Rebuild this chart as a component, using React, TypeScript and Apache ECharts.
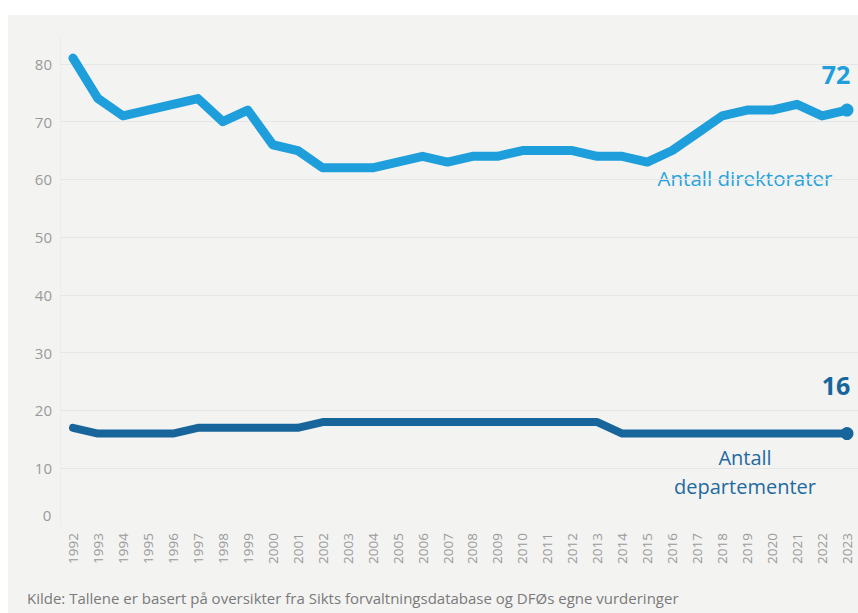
import React, { useEffect, useRef } from "react";
import * as echarts from "echarts";

const years = [
  "1992","1993","1994","1995","1996","1997","1998","1999","2000","2001","2002","2003","2004","2005","2006","2007",
  "2008","2009","2010","2011","2012","2013","2014","2015","2016","2017","2018","2019","2020","2021","2022","2023",
];
const direktorater = [81,74,71,72,73,74,70,72,66,65,62,62,62,63,64,63,64,64,65,65,65,64,64,63,65,68,71,72,72,73,71,72];
const departementer = [17,16,16,16,16,17,17,17,17,17,18,18,18,18,18,18,18,18,18,18,18,18,16,16,16,16,16,16,16,16,16,16];
const yMin = 0;
const yMax = 85;
const yTicks = [0, 10, 20, 30, 40, 50, 60, 70, 80];

const LIGHT = "#1e9fdb";
const DARK = "#17659b";
const FONT = "'Open Sans', 'Noto Sans', sans-serif";
const GRID = "#e6e6e6";

function withEnd(values: number[], color: string, dist: number, fs: number) {
  return values.map((v, i) =>
    i === values.length - 1
      ? {
          value: v,
          symbol: "circle",
          symbolSize: 13,
          itemStyle: { color },
          label: {
            show: true,
            position: "top",
            distance: dist,
            offset: [-11, 0],
            formatter: String(v),
            color,
            fontSize: fs,
            fontWeight: "bold",
            fontFamily: FONT,
          },
        }
      : { value: v, symbol: "none" }
  );
}

export default function App() {
  const ref = useRef<HTMLDivElement>(null);
  useEffect(() => {
    if (!ref.current) return;
    const chart = echarts.init(ref.current, null, { renderer: "svg" });
    const gridColors = [...yTicks.map((t) => (t === 0 ? "transparent" : GRID)), "transparent"];
    chart.setOption({
      animation: false,
      backgroundColor: "#f3f3f2",
      grid: [
        { left: 52, right: 0, top: 20, bottom: 87 },
        { left: 65, right: 11, top: 20, bottom: 87 },
      ],
      xAxis: [
        { type: "category", gridIndex: 0, data: years, show: false, boundaryGap: false },
        {
          type: "category",
          gridIndex: 1,
          data: years,
          boundaryGap: false,
          axisLine: { show: false },
          axisTick: { show: false },
          axisLabel: { rotate: 90, margin: 7, color: "#9a9a9a", fontSize: 13.5, fontFamily: FONT, interval: 0 },
        },
      ],
      yAxis: [
        {
          type: "value",
          gridIndex: 0,
          min: yMin,
          max: yMax,
          interval: 10,
          axisLine: { show: true, lineStyle: { color: "#ececec" } },
          axisTick: { show: false },
          splitLine: { show: true, lineStyle: { color: gridColors, width: 1 } },
          axisLabel: {
            margin: 8,
            color: "#9a9a9a",
            fontSize: 15,
            fontFamily: FONT,
            showMaxLabel: false,
            formatter: (v: number) => (v === 0 || !yTicks.includes(v) ? "" : String(v)),
          },
        },
        { type: "value", gridIndex: 1, min: yMin, max: yMax, interval: 10, show: false, splitLine: { show: false } },
      ],
      graphic: [
        {
          type: "text",
          x: 39,
          y: 500,
          style: { text: String(yTicks[0]), fill: "#9a9a9a", fontSize: 15, fontFamily: FONT, align: "center", verticalAlign: "middle" },
        },
        {
          type: "text",
          x: 737,
          y: 163,
          style: { text: "Antall direktorater", fill: "#27a3dc", fontSize: 20.5, fontFamily: FONT, align: "center", verticalAlign: "middle" },
        },
        {
          type: "text",
          x: 737,
          y: 457,
          style: {
            text: "Antall\ndepartementer",
            fill: "#1f6a9e",
            fontSize: 20,
            lineHeight: 29,
            fontFamily: FONT,
            align: "center",
            verticalAlign: "middle",
          },
        },
        {
          type: "text",
          x: 19,
          y: 583,
          style: {
            text: "Kilde: Tallene er basert på oversikter fra Sikts forvaltningsdatabase og DFØs egne vurderinger",
            fill: "#7a7a7a",
            fontSize: 15,
            fontFamily: FONT,
            verticalAlign: "middle",
          },
        },
      ],
      series: [
        {
          name: "Antall direktorater",
          type: "line",
          xAxisIndex: 1,
          yAxisIndex: 1,
          data: withEnd(direktorater, LIGHT, 17, 25),
          lineStyle: { color: LIGHT, width: 9, cap: "round", join: "round" },
          itemStyle: { color: LIGHT },
        },
        {
          name: "Antall departementer",
          type: "line",
          xAxisIndex: 1,
          yAxisIndex: 1,
          data: withEnd(departementer, DARK, 30, 25),
          lineStyle: { color: DARK, width: 8, cap: "round", join: "round" },
          itemStyle: { color: DARK },
        },
      ],
    });
    return () => chart.dispose();
  }, []);
  return <div ref={ref} style={{ position: "absolute", left: 8, top: 15, width: 850, height: 598 }} />;
}
